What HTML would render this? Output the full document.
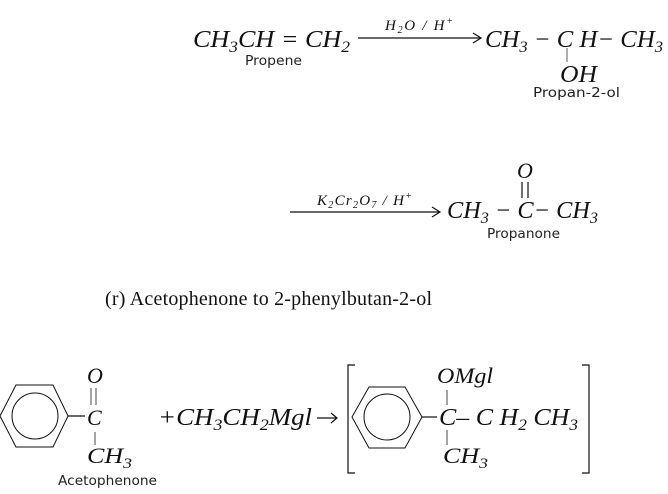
<!DOCTYPE html>
<html><head><style>
html,body{margin:0;padding:0;background:#fff;}
svg{display:block}
.m{font-family:"Liberation Serif",serif;font-style:italic;fill:#111;}
.s{font-family:"DejaVu Sans","Liberation Sans",sans-serif;fill:#222;}
</style></head><body>
<svg width="668" height="494" viewBox="0 0 668 494" xmlns="http://www.w3.org/2000/svg">
<g stroke="#111" stroke-width="1.2" fill="none">
<line x1="358" y1="38" x2="480" y2="38"/><polyline points="473,33 481,38 473,43"/>
<line x1="567" y1="48" x2="567" y2="62" stroke="#777"/>
<line x1="290" y1="212" x2="439" y2="212"/><polyline points="432,207 440,212 432,217"/>
<line x1="522" y1="182" x2="522" y2="198"/><line x1="528" y1="182" x2="528" y2="198"/>
<polygon points="0,416 16,385 53,385 68,416 53,447 16,447" stroke-width="1"/>
<circle cx="35" cy="416" r="23" stroke-width="1"/>
<line x1="68" y1="416" x2="85" y2="416"/>
<line x1="91" y1="388" x2="91" y2="405" stroke="#666"/><line x1="96" y1="388" x2="96" y2="405" stroke="#666"/>
<line x1="95" y1="432" x2="95" y2="445" stroke="#666"/>
<line x1="317" y1="418" x2="336" y2="418"/><polyline points="331,413 337,418 331,423"/>
<polyline points="355,365 348,365 348,473 355,473"/>
<polyline points="582,365 589,365 589,473 582,473"/>
<polygon points="352,417 369,387 405,387 422,417 405,448 369,448" stroke-width="1"/>
<circle cx="387" cy="417" r="23" stroke-width="1"/>
<line x1="422" y1="417" x2="437" y2="417"/>
<line x1="447" y1="390" x2="447" y2="405" stroke="#666"/>
<line x1="447" y1="430" x2="447" y2="445" stroke="#666"/>
</g>
<text class="m" x="193" y="47" font-size="24" textLength="157" lengthAdjust="spacingAndGlyphs">CH<tspan font-size="16" dy="5">3</tspan><tspan dy="-5">CH = CH</tspan><tspan font-size="16" dy="5">2</tspan></text>
<text class="s" x="245" y="65" font-size="13" textLength="57" lengthAdjust="spacingAndGlyphs">Propene</text>
<text class="m" x="385" y="30" font-size="15" textLength="68">H<tspan font-size="10" dy="3">2</tspan><tspan dy="-3">O / H</tspan><tspan font-size="10" dy="-6">+</tspan></text>
<text class="m" x="485" y="47" font-size="24" textLength="178" lengthAdjust="spacingAndGlyphs">CH<tspan font-size="16" dy="5">3</tspan><tspan dy="-5"> − C H− CH</tspan><tspan font-size="16" dy="5">3</tspan></text>
<text class="m" x="560" y="82" font-size="24" textLength="37" lengthAdjust="spacingAndGlyphs">OH</text>
<text class="s" x="533" y="97" font-size="13" textLength="87" lengthAdjust="spacingAndGlyphs">Propan-2-ol</text>
<text class="m" x="317" y="205" font-size="15" textLength="95">K<tspan font-size="10" dy="3">2</tspan><tspan dy="-3">Cr</tspan><tspan font-size="10" dy="3">2</tspan><tspan dy="-3">O</tspan><tspan font-size="10" dy="3">7</tspan><tspan dy="-3"> / H</tspan><tspan font-size="10" dy="-6">+</tspan></text>
<text class="m" x="517" y="178" font-size="22">O</text>
<text class="m" x="447" y="218" font-size="24" textLength="151" lengthAdjust="spacingAndGlyphs">CH<tspan font-size="16" dy="5">3</tspan><tspan dy="-5"> − C− CH</tspan><tspan font-size="16" dy="5">3</tspan></text>
<text class="s" x="487" y="238" font-size="13" textLength="73" lengthAdjust="spacingAndGlyphs">Propanone</text>
<text x="105" y="305" font-size="20" font-family="Liberation Serif,serif" fill="#111" textLength="327">(r) Acetophenone to 2-phenylbutan-2-ol</text>
<text class="m" x="87" y="383" font-size="22">O</text>
<text class="m" x="87" y="425" font-size="22">C</text>
<text class="m" x="87" y="463" font-size="22" textLength="45" lengthAdjust="spacingAndGlyphs">CH<tspan font-size="15" dy="5">3</tspan></text>
<text class="s" x="58" y="485" font-size="13" textLength="99" lengthAdjust="spacingAndGlyphs">Acetophenone</text>
<text class="m" x="158" y="425" font-size="24" textLength="154" lengthAdjust="spacingAndGlyphs">+CH<tspan font-size="16" dy="5">3</tspan><tspan dy="-5">CH</tspan><tspan font-size="16" dy="5">2</tspan><tspan dy="-5">Mgl</tspan></text>
<text class="m" x="437" y="383" font-size="22" textLength="56" lengthAdjust="spacingAndGlyphs">OMgl</text>
<text class="m" x="439" y="425" font-size="24" textLength="139" lengthAdjust="spacingAndGlyphs">C– C H<tspan font-size="16" dy="5">2</tspan><tspan dy="-5"> CH</tspan><tspan font-size="16" dy="5">3</tspan></text>
<text class="m" x="443" y="463" font-size="22" textLength="45" lengthAdjust="spacingAndGlyphs">CH<tspan font-size="15" dy="5">3</tspan></text>
</svg>
</body></html>
